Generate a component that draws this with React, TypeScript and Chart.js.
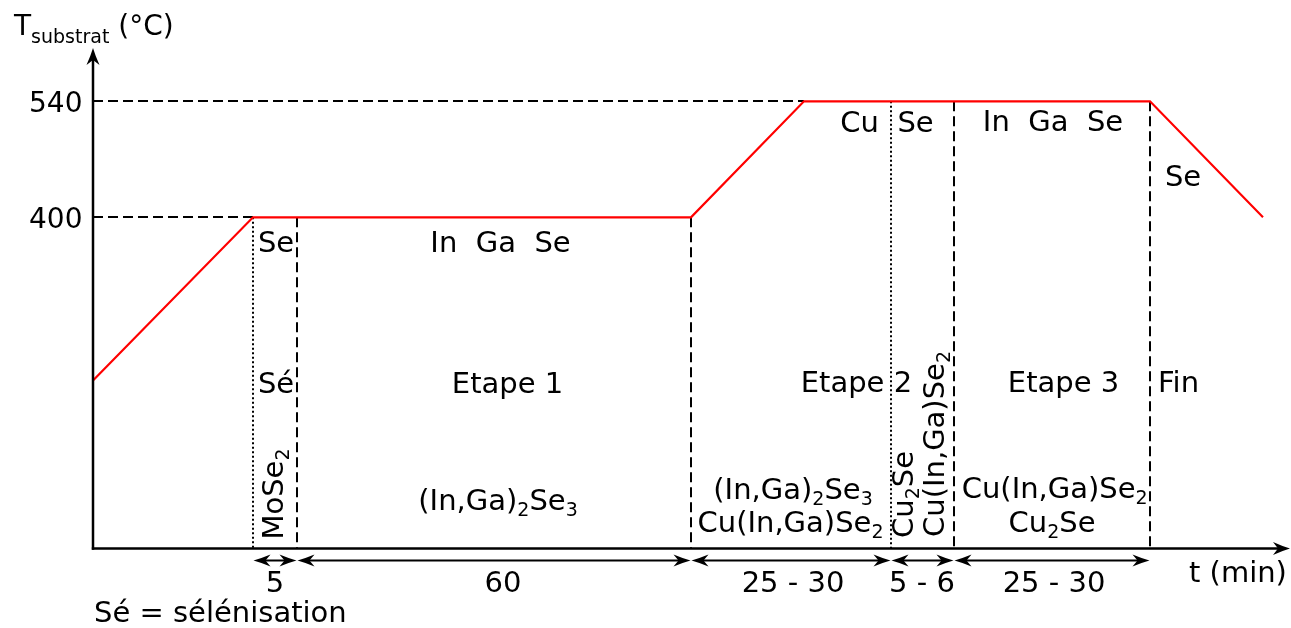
import React, { useEffect, useRef } from 'react';
import { Chart, registerables } from 'chart.js';

Chart.register(...registerables);

const FONT = '"DejaVu Sans", "Liberation Sans", sans-serif';

// Schematic time positions of the temperature profile (axis not to scale)
const timePos = [0, 16, 59.8, 71.1, 105.7, 117];
// Substrate temperature (°C)
const tSubstrat = [203, 400, 400, 540, 540, 400];
// Temperature tick labels and where their dashed guides reach the profile
const tempTicks = [400, 540];
const tickReach = [16, 71.1];
// Process phase boundaries
const phaseBounds = [16, 20.4, 59.8, 79.8, 86.1, 105.7];
const phaseTops = [400, 400, 400, 540, 540, 540];
const phaseStyles = ['dot', 'dash', 'dash', 'dot', 'dash', 'dash'];
// Durations between successive boundaries
const durations = ['5', '60', '25 - 30', '5 - 6', '25 - 30'];
const durationX = [18.2, 41, 70, 82.9, 96.1];

type Label = { text: string; x: number; y: number; align?: 'left' | 'center' | 'right'; rot?: boolean };

const labels: Label[] = [
  { text: 'Se', x: 18.3, y: 358, align: 'center' },
  { text: 'Sé', x: 18.3, y: 188, align: 'center' },
  { text: 'MoSe_{2}', x: 19.0, y: 66, align: 'center', rot: true },
  { text: 'In  Ga  Se', x: 40.75, y: 358, align: 'center' },
  { text: 'Etape 1', x: 41.45, y: 188, align: 'center' },
  { text: '(In,Ga)_{2}Se_{3}', x: 40.5, y: 46.6, align: 'center' },
  { text: 'Cu', x: 76.65, y: 503.3, align: 'center' },
  { text: 'Se', x: 82.25, y: 503.3, align: 'center' },
  { text: 'Etape 2', x: 70.77, y: 189, align: 'left' },
  { text: '(In,Ga)_{2}Se_{3}', x: 70.0, y: 59.6, align: 'center' },
  { text: 'Cu(In,Ga)Se_{2}', x: 69.75, y: 20.5, align: 'center' },
  { text: 'Cu_{2}Se', x: 82.0, y: 65.4, align: 'center', rot: true },
  { text: 'Cu(In,Ga)Se_{2}', x: 85.1, y: 126.4, align: 'center', rot: true },
  { text: 'In  Ga  Se', x: 96.0, y: 504.5, align: 'center' },
  { text: 'Se', x: 109.0, y: 438, align: 'center' },
  { text: 'Etape 3', x: 97.05, y: 189.5, align: 'center' },
  { text: 'Fin', x: 106.5, y: 189, align: 'left' },
  { text: 'Cu(In,Ga)Se_{2}', x: 96.17, y: 61.2, align: 'center' },
  { text: 'Cu_{2}Se', x: 95.9, y: 20.5, align: 'center' },
  { text: 't (min)', x: 109.6, y: -40.2, align: 'left' },
  { text: 'Sé = sélénisation', x: 0.1, y: -88.5, align: 'left' },
];

const yTitle = 'T_{substrat} (°C)';

function parseRich(s: string) {
  const out: { t: string; sub: boolean }[] = [];
  const re = /_\{([^}]*)\}/g;
  let last = 0;
  let m: RegExpExecArray | null;
  while ((m = re.exec(s))) {
    if (m.index > last) out.push({ t: s.slice(last, m.index), sub: false });
    out.push({ t: m[1], sub: true });
    last = re.lastIndex;
  }
  if (last < s.length) out.push({ t: s.slice(last), sub: false });
  return out;
}

function drawRich(
  ctx: CanvasRenderingContext2D,
  s: string,
  x: number,
  y: number,
  align: 'left' | 'center' | 'right' = 'left',
  rot = false,
  size = 29,
  subSize = 19,
  subDy = 6
) {
  const segs = parseRich(s);
  ctx.save();
  ctx.translate(x, y);
  if (rot) ctx.rotate(-Math.PI / 2);
  ctx.textBaseline = 'alphabetic';
  ctx.textAlign = 'left';
  let w = 0;
  const widths = segs.map((sg) => {
    ctx.font = `${sg.sub ? subSize : size}px ${FONT}`;
    const ww = ctx.measureText(sg.t).width;
    w += ww;
    return ww;
  });
  let cx = align === 'center' ? -w / 2 : align === 'right' ? -w : 0;
  segs.forEach((sg, i) => {
    ctx.font = `${sg.sub ? subSize : size}px ${FONT}`;
    ctx.fillText(sg.t, cx, sg.sub ? subDy : 0);
    cx += widths[i];
  });
  ctx.restore();
}

function arrowHead(
  ctx: CanvasRenderingContext2D,
  tx: number,
  ty: number,
  dx: number,
  dy: number,
  len: number,
  half: number,
  notch: number
) {
  const px = -dy;
  const py = dx;
  const bx = tx - dx * len;
  const by = ty - dy * len;
  const nx = tx - dx * (len - notch);
  const ny = ty - dy * (len - notch);
  ctx.beginPath();
  ctx.moveTo(tx, ty);
  ctx.quadraticCurveTo(tx - dx * len * 0.45 + px * half * 0.35, ty - dy * len * 0.45 + py * half * 0.35, bx + px * half, by + py * half);
  ctx.lineTo(nx, ny);
  ctx.lineTo(bx - px * half, by - py * half);
  ctx.quadraticCurveTo(tx - dx * len * 0.45 - px * half * 0.35, ty - dy * len * 0.45 - py * half * 0.35, tx, ty);
  ctx.closePath();
  ctx.fill();
}

function seg(ctx: CanvasRenderingContext2D, x1: number, y1: number, x2: number, y2: number) {
  ctx.beginPath();
  ctx.moveTo(x1, y1);
  ctx.lineTo(x2, y2);
  ctx.stroke();
}

const diagramPlugin = {
  id: 'diagram',
  beforeDatasetsDraw(chart: any) {
    const { ctx, scales } = chart;
    const xs = scales.x;
    const ys = scales.y;
    const X0 = Math.round(xs.getPixelForValue(0));
    const Y0 = Math.round(ys.getPixelForValue(0));
    ctx.save();
    ctx.strokeStyle = '#000';
    ctx.lineWidth = 2;
    ctx.setLineDash([10, 5]);
    tempTicks.forEach((t, i) => {
      const py = Math.round(ys.getPixelForValue(t));
      seg(ctx, X0, py, xs.getPixelForValue(tickReach[i]), py);
    });
    phaseBounds.forEach((b, i) => {
      const px = Math.round(xs.getPixelForValue(b));
      if (phaseStyles[i] === 'dot') {
        ctx.setLineDash([2, 2.5]);
        ctx.lineWidth = 2;
      } else {
        ctx.setLineDash([10, 5]);
        ctx.lineWidth = 2;
      }
      seg(ctx, px, ys.getPixelForValue(phaseTops[i]), px, Y0);
    });
    ctx.restore();
  },
  afterDatasetsDraw(chart: any) {
    const { ctx, scales, chartArea } = chart;
    const xs = scales.x;
    const ys = scales.y;
    const X0 = Math.round(xs.getPixelForValue(0));
    const Y0 = Math.round(ys.getPixelForValue(0)) - 0.5;
    ctx.save();
    ctx.strokeStyle = '#000';
    ctx.fillStyle = '#000';
    ctx.setLineDash([]);
    // axes
    ctx.lineWidth = 2.5;
    seg(ctx, X0, Y0 + 1.2, X0, chartArea.top + 12);
    arrowHead(ctx, X0, chartArea.top, 0, -1, 17, 6.5, 5);
    seg(ctx, X0 - 1.2, Y0, chartArea.right - 12, Y0);
    arrowHead(ctx, chartArea.right, Y0, 1, 0, 17, 6.5, 5);

    // duration arrows
    ctx.lineWidth = 2;
    const ay = Y0 + 12;
    for (let i = 0; i < durations.length; i++) {
      const a = xs.getPixelForValue(phaseBounds[i]) + 0.5;
      const b = xs.getPixelForValue(phaseBounds[i + 1]) - 0.5;
      seg(ctx, a + 10, ay, b - 10, ay);
      arrowHead(ctx, a, ay, -1, 0, 17, 6, 5);
      arrowHead(ctx, b, ay, 1, 0, 17, 6, 5);
      drawRich(ctx, durations[i], xs.getPixelForValue(durationX[i]), ys.getPixelForValue(-52.2), 'center');
    }

    // tick labels
    tempTicks.forEach((t) => {
      drawRich(ctx, String(t), X0 - 10.5, ys.getPixelForValue(t) + 10.5, 'right', false, 28);
    });

    // annotations
    labels.forEach((l) => {
      drawRich(ctx, l.text, xs.getPixelForValue(l.x), ys.getPixelForValue(l.y), l.align || 'left', !!l.rot);
    });

    // axis title
    drawRich(ctx, yTitle, X0 - 79, chartArea.top - 13, 'left', false, 28, 19, 8);
    ctx.restore();
  },
};

export default function App() {
  const ref = useRef<HTMLCanvasElement | null>(null);
  useEffect(() => {
    document.body.style.margin = '0';
    const canvas = ref.current;
    if (!canvas) return;
    const chart = new Chart(canvas, {
      type: 'line',
      data: {
        datasets: [
          {
            data: timePos.map((t, i) => ({ x: t, y: tSubstrat[i] })),
            borderColor: '#ff0000',
            borderWidth: 2.2,
            pointRadius: 0,
            fill: false,
            tension: 0,
            clip: false as any,
          },
        ],
      },
      options: {
        animation: false,
        responsive: false,
        devicePixelRatio: 1,
        layout: { padding: { left: 93, right: 1, top: 48, bottom: 79.3 } },
        plugins: { legend: { display: false }, tooltip: { enabled: false } },
        events: [],
        scales: {
          x: { type: 'linear', min: 0, max: 119.7, display: false },
          y: { type: 'linear', min: 0, max: 604.3, display: false },
        },
      },
      plugins: [diagramPlugin],
    });
    return () => chart.destroy();
  }, []);
  return (
    <div style={{ width: 1291, height: 628, background: '#fff' }}>
      <canvas ref={ref} width={1291} height={628} style={{ display: 'block' }} />
    </div>
  );
}
